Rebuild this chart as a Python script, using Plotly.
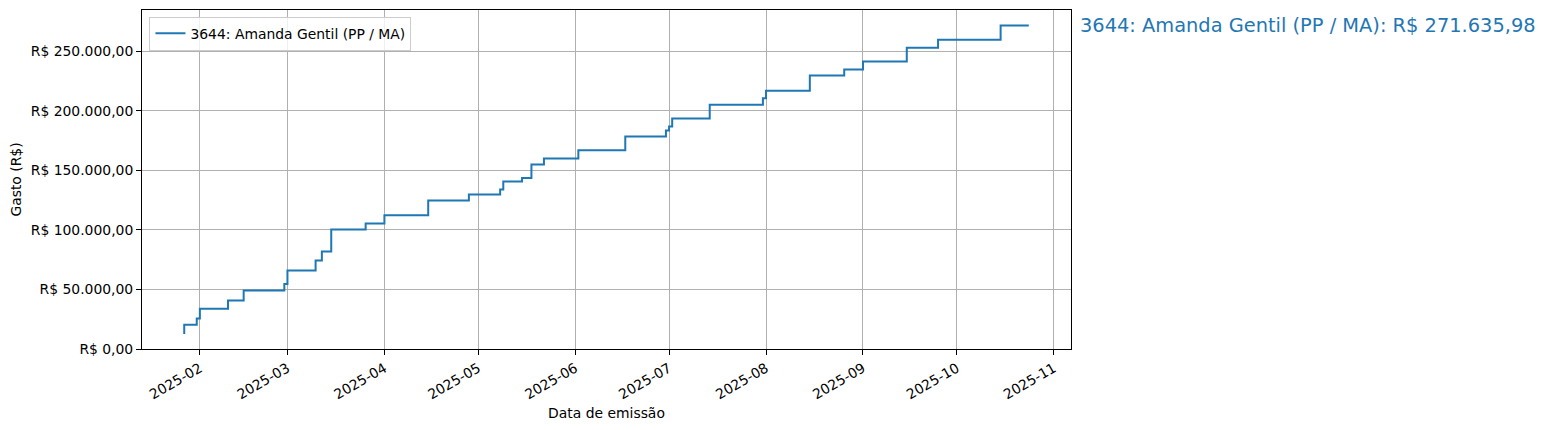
import pandas as pd
import plotly.graph_objects as go

# Cumulative spending (step chart, matplotlib "pre" style)
datas = [
    "2025-01-27", "2025-01-31", "2025-02-01", "2025-02-10", "2025-02-15",
    "2025-02-28", "2025-03-01", "2025-03-10", "2025-03-12", "2025-03-15",
    "2025-03-26", "2025-04-01", "2025-04-15", "2025-04-28", "2025-05-08",
    "2025-05-09", "2025-05-15", "2025-05-18", "2025-05-22", "2025-06-02",
    "2025-06-17", "2025-06-30", "2025-07-01", "2025-07-02", "2025-07-14",
    "2025-07-31", "2025-08-01", "2025-08-15", "2025-08-26", "2025-09-01",
    "2025-09-15", "2025-09-25", "2025-10-15", "2025-10-24",
]
gasto_acumulado = [
    12600, 20400, 25700, 33800, 40800,
    49200, 54500, 65900, 74300, 81900,
    100300, 105400, 112200, 124700, 129700,
    133900, 140600, 143500, 154900, 159900,
    166900, 178400, 183400, 186700, 193500,
    205000, 210600, 216900, 229500, 234600,
    241300, 253000, 259700, 271635.98,
]
nome = "3644: Amanda Gentil (PP / MA)"

y_ticks = [0, 50000, 100000, 150000, 200000, 250000]
y_labels = ["R$ 0,00", "R$ 50.000,00", "R$ 100.000,00", "R$ 150.000,00",
            "R$ 200.000,00", "R$ 250.000,00"]
x_ticks = ["2025-02-01", "2025-03-01", "2025-04-01", "2025-05-01", "2025-06-01",
           "2025-07-01", "2025-08-01", "2025-09-01", "2025-10-01", "2025-11-01"]
x_labels = [d[:7] for d in x_ticks]

total_txt = "R$ 271.635,98"

datas = pd.to_datetime(datas)
span = datas[-1] - datas[0]
x_range = [datas[0] - span * 0.05, datas[-1] + span * 0.05]
y_top = gasto_acumulado[-1] + 0.05 * (gasto_acumulado[-1] - gasto_acumulado[0])

blue = "#1f77b4"
font = dict(family="DejaVu Sans", size=13.9, color="black")

fig = go.Figure()
fig.add_trace(go.Scatter(
    x=datas, y=gasto_acumulado, mode="lines", name=nome,
    line=dict(color=blue, width=2, shape="vh"),
))

fig.add_annotation(
    x=1, xref="paper", y=gasto_acumulado[-1], yref="y",
    text=f"{nome}: {total_txt}", showarrow=False,
    xanchor="left", yanchor="middle", xshift=7,
    font=dict(family="DejaVu Sans", size=19.4, color=blue),
)

# page body has an 8px margin, so the figure is a bit smaller than the window
fig.update_layout(
    width=1538, height=422,
    margin=dict(l=134, r=475, t=2, b=81),
    paper_bgcolor="white", plot_bgcolor="white",
    font=font,
    showlegend=True,
    legend=dict(
        x=0.008, y=0.98, xanchor="left", yanchor="top",
        bgcolor="rgba(255,255,255,0.8)", bordercolor="#cccccc", borderwidth=1,
        font=font, itemwidth=30, tracegroupgap=0,
    ),
)
fig.update_xaxes(
    range=x_range, tickvals=pd.to_datetime(x_ticks), ticktext=x_labels,
    tickangle=-30, ticks="outside", ticklen=5, tickcolor="black",
    showgrid=True, gridcolor="#b0b0b0", gridwidth=1,
    showline=True, linecolor="black", linewidth=1, mirror=True,
    title=dict(text="Data de emissão", font=font, standoff=6),
)
fig.update_yaxes(
    range=[0, y_top], tickvals=y_ticks, ticktext=y_labels,
    ticks="outside", ticklen=5, tickcolor="black",
    showgrid=True, gridcolor="#b0b0b0", gridwidth=1,
    zeroline=True, zerolinecolor="black", zerolinewidth=1.5,
    showline=True, linecolor="black", linewidth=1, mirror=True,
    title=dict(text="Gasto (R$)", font=font, standoff=8),
)

fig.write_html("out.html")
